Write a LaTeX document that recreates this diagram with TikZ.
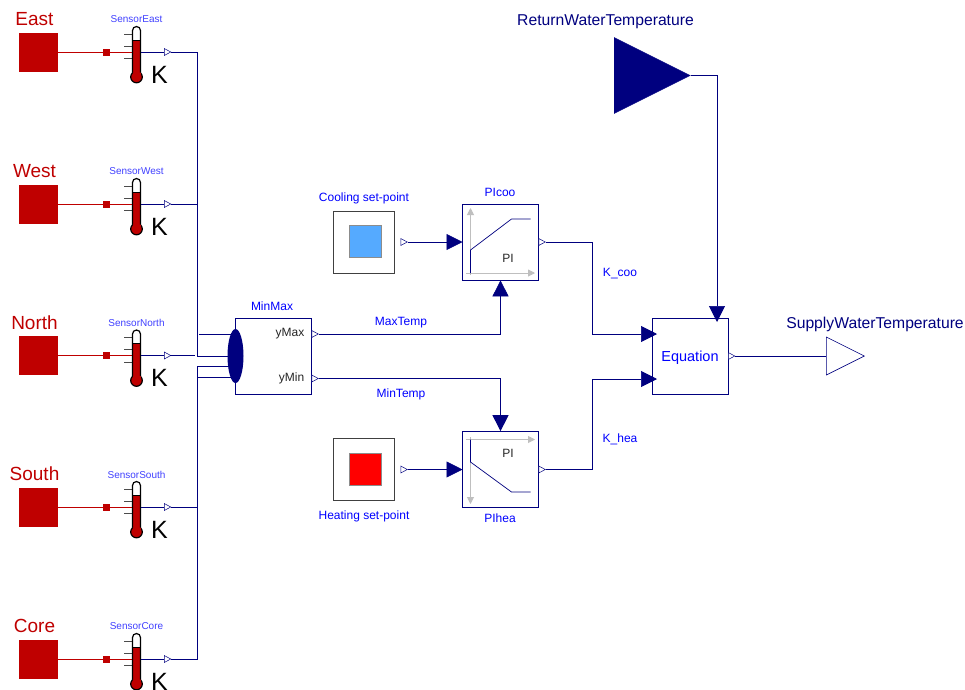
\documentclass[tikz,border=0pt]{standalone}
\usepackage{fontspec}
\setmainfont{Liberation Sans}
\usepackage{xcolor}
\usepackage{tikz}
\usetikzlibrary{arrows.meta}
\usetikzlibrary{shapes.geometric}
\definecolor{wireblue}{RGB}{0,0,127}
\definecolor{heatred}{RGB}{191,0,0}
\definecolor{coolblue}{RGB}{85,170,255}
\tikzset{>=latex}
\tikzset{
  wire/.style = {draw=wireblue, line width=0.7pt},
  inwire/.style = {wire, -{Triangle[length=16pt,width=16pt]}},
  heatwire/.style = {draw=heatred, line width=0.7pt},
  block/.style = {rectangle, draw=wireblue, fill=white, line width=0.7pt, minimum size=76pt, inner sep=0},
  source/.style = {rectangle, draw=black!75, fill=white, line width=0.7pt, minimum size=61.5pt, inner sep=0},
  swatch/.style = {rectangle, draw=black!45, line width=0.4pt, minimum size=32pt, inner sep=0},
  outport/.style = {isosceles triangle, isosceles triangle stretches, anchor=lower side, draw=wireblue,
    fill=white, line width=0.5pt, minimum width=7pt, minimum height=6.5pt, inner sep=0},
  room/.style = {rectangle, fill=heatred, minimum size=39pt, inner sep=0},
  blocktext/.style = {text=blue, font=\fontsize{12}{14}\selectfont, inner sep=0},
  darktext/.style = {text=black!85, font=\fontsize{12}{14}\selectfont, inner sep=0},
  sensortext/.style = {text=blue!75, font=\fontsize{10}{12}\selectfont, inner sep=0},
  roomtext/.style = {text=heatred, font=\fontsize{19}{21}\selectfont, inner sep=0},
  bigtext/.style = {text=wireblue, font=\fontsize{15.7}{18}\selectfont, inner sep=0},
}
\begin{document}
\begin{tikzpicture}[x=1pt, y=-1pt]
\clip (0, 0) rectangle (965, 689);
% room temperature sensors
\foreach \room/\ypos in {East/52, West/204, North/355.5, South/507, Core/659} {
  \begin{scope}[shift={(0, \ypos)}]
    \node [room] (room\room) at (38.5, 0) {};
    \node [roomtext] (name\room) at (34.5, -33) {\room};
    \node [rectangle, fill=heatred, minimum size=7pt, inner sep=0] (dot\room) at (106.5, 0) {};
    \node [sensortext] (label\room) at (136.5, -32.5) {Sensor\room};
    \coordinate (tube\room) at (132.5, 0);
    \draw [heatwire] (room\room) -- (dot\room) -- (tube\room);
    \foreach \tick in {-18, -6, 6.5} {
      \draw [black!70, line width=0.5pt] (124, \tick) -- (132.5, \tick);
    }
    % thermometer
    \draw [black, fill=heatred, line width=1.2pt] (136.5, 25) circle [radius=5.8];
    \fill [white] (132.5, -21.5) arc [start angle=180, end angle=360, radius=4] -- (140.5, -12) -- (132.5, -12) -- cycle;
    \fill [heatred] (132.5, -12) rectangle (140.5, 24);
    \draw [black, line width=1.2pt] (132.5, 20.5) -- (132.5, -21.5) arc [start angle=180, end angle=360, radius=4] -- (140.5, 20.5);
    \draw [black, line width=0.5pt] (132.5, -12) -- (140.5, -12);
    \node [text=black, font=\fontsize{25}{28}\selectfont, inner sep=0] (unit\room) at (159.5, 22.5) {K};
    \node [outport] (port\room) at (164, 0) {};
    \coordinate (stem\room) at (141, 0);
    \draw [wire] (stem\room) -- (port\room);
  \end{scope}
}
% blocks
\node [block] (minmax) at (273.5, 356) {};
\node [block] (coo) at (500.5, 242) {};
\node [block] (hea) at (500.5, 469.5) {};
\node [block] (equation) at (690, 356) {};
\node [source] (coolsrc) at (364, 242.5) {};
\node [swatch, fill=coolblue] (coolval) at (365, 241.5) {};
\node [source] (heatsrc) at (364, 469.5) {};
\node [swatch, fill=red] (heatval) at (365, 469) {};
\node [isosceles triangle, isosceles triangle stretches, anchor=lower side, fill=wireblue, draw=wireblue, minimum width=76pt, minimum height=76pt, inner sep=0] (returnw) at (614, 75.5) {};
\node [isosceles triangle, isosceles triangle stretches, anchor=lower side, draw=wireblue, fill=white, line width=0.6pt, minimum width=38pt, minimum height=38pt, inner sep=0] (supplyw) at (826, 356) {};
\node [ellipse, fill=wireblue, minimum width=16pt, minimum height=54pt, inner sep=0] (mux) at (235.5, 356) {};
% ports
\node [outport] (pmax) at (311.5, 334) {};
\node [outport] (pmin) at (311.5, 378.5) {};
\node [outport] (pcoo) at (538.5, 242) {};
\node [outport] (phea) at (538.5, 469.5) {};
\node [outport] (peq) at (728, 356) {};
\node [outport] (pcool) at (400.5, 242) {};
\node [outport] (pheat) at (400.5, 469.5) {};
% free ends of the wires
\coordinate (busTop) at (197.5, 356);
\coordinate (busMid) at (197.5, 366);
\coordinate (busLow) at (197.5, 377);
\coordinate (inCoo) at (462.5, 242);
\coordinate (inHea) at (462.5, 469.5);
\coordinate (inEqA) at (657, 334);
\coordinate (inEqB) at (657, 379);
\coordinate (inEqC) at (717, 322);
\coordinate (midWest) at (197.5, 204);
\coordinate (midSouth) at (197.5, 507);
% wires
\draw [wire] (portEast.apex) -| (busTop) -- (mux.center);
\draw [wire] (portWest.apex) -- (midWest);
\draw [wire] (portNorth.apex) -- (195, 355.5);
\draw [wire] (199, 334) -- (mux.center |- 0, 334);
\draw [wire] (mux.center |- busMid) -- (busMid) -- (busLow);
\draw [wire] (portCore.apex) -| (busLow) -- (mux.center |- busLow);
\draw [wire] (portSouth.apex) -- (midSouth);
\draw [inwire] (pcool.apex) -- (inCoo);
\draw [inwire] (pheat.apex) -- (inHea);
\draw [inwire] (pmax.apex) -| (coo.south);
\draw [inwire] (pmin.apex) -| (hea.north);
\draw [inwire] (pcoo.apex) -- (592, 242) |- (inEqA);
\draw [inwire] (phea.apex) -- (592, 469.5) |- (inEqB);
\draw [inwire] (returnw.apex) -| (inEqC);
\draw [wire] (peq.apex) -- (supplyw.lower side);
% plots inside the controllers
\draw [black!25, line width=0.9pt, -{Triangle[length=7pt,width=7pt]}] (470.5, 275) -- (470.5, 208);
\draw [black!25, line width=0.9pt, -{Triangle[length=7pt,width=7pt]}] (466, 273) -- (535, 273);
\draw [wire] (470.5, 273) -- (470.5, 250) -- (511.5, 219) -- (530.5, 219);
\draw [black!25, line width=0.9pt, -{Triangle[length=7pt,width=7pt]}] (470.5, 437) -- (470.5, 504);
\draw [black!25, line width=0.9pt, -{Triangle[length=7pt,width=7pt]}] (466, 439.5) -- (535, 439.5);
\draw [wire] (470.5, 439.5) -- (470.5, 462) -- (511.5, 492) -- (530.5, 492);
% labels
\node [darktext] (piA) at (508, 258) {PI};
\node [darktext] (piB) at (508, 453) {PI};
\node [blocktext] (tagMinMax) at (272, 306) {MinMax};
\node [darktext, anchor=east] (tagMax) at (304.5, 333.5) {yMax};
\node [darktext, anchor=east] (tagMin) at (304.5, 378.5) {yMin};
\node [blocktext] (tagCoo) at (500, 192.5) {PIcoo};
\node [blocktext] (tagHea) at (500, 518.5) {PIhea};
\node [blocktext] (tagCool) at (364, 198) {Cooling set-point};
\node [blocktext] (tagHeat) at (364, 516) {Heating set-point};
\node [blocktext] (tagMaxT) at (401, 322.5) {MaxTemp};
\node [blocktext] (tagMinT) at (401, 394.5) {MinTemp};
\node [blocktext] (tagKcoo) at (620, 273.5) {K\_coo};
\node [blocktext] (tagKhea) at (620, 439.5) {K\_hea};
\node [text=blue, font=\fontsize{14.5}{17}\selectfont, inner sep=0] (tagEq) at (690, 357.5) {Equation};
\node [bigtext] (tagReturn) at (605.5, 21.5) {ReturnWaterTemperature};
\node [bigtext] (tagSupply) at (875, 324) {SupplyWaterTemperature};
\end{tikzpicture}
\end{document}
